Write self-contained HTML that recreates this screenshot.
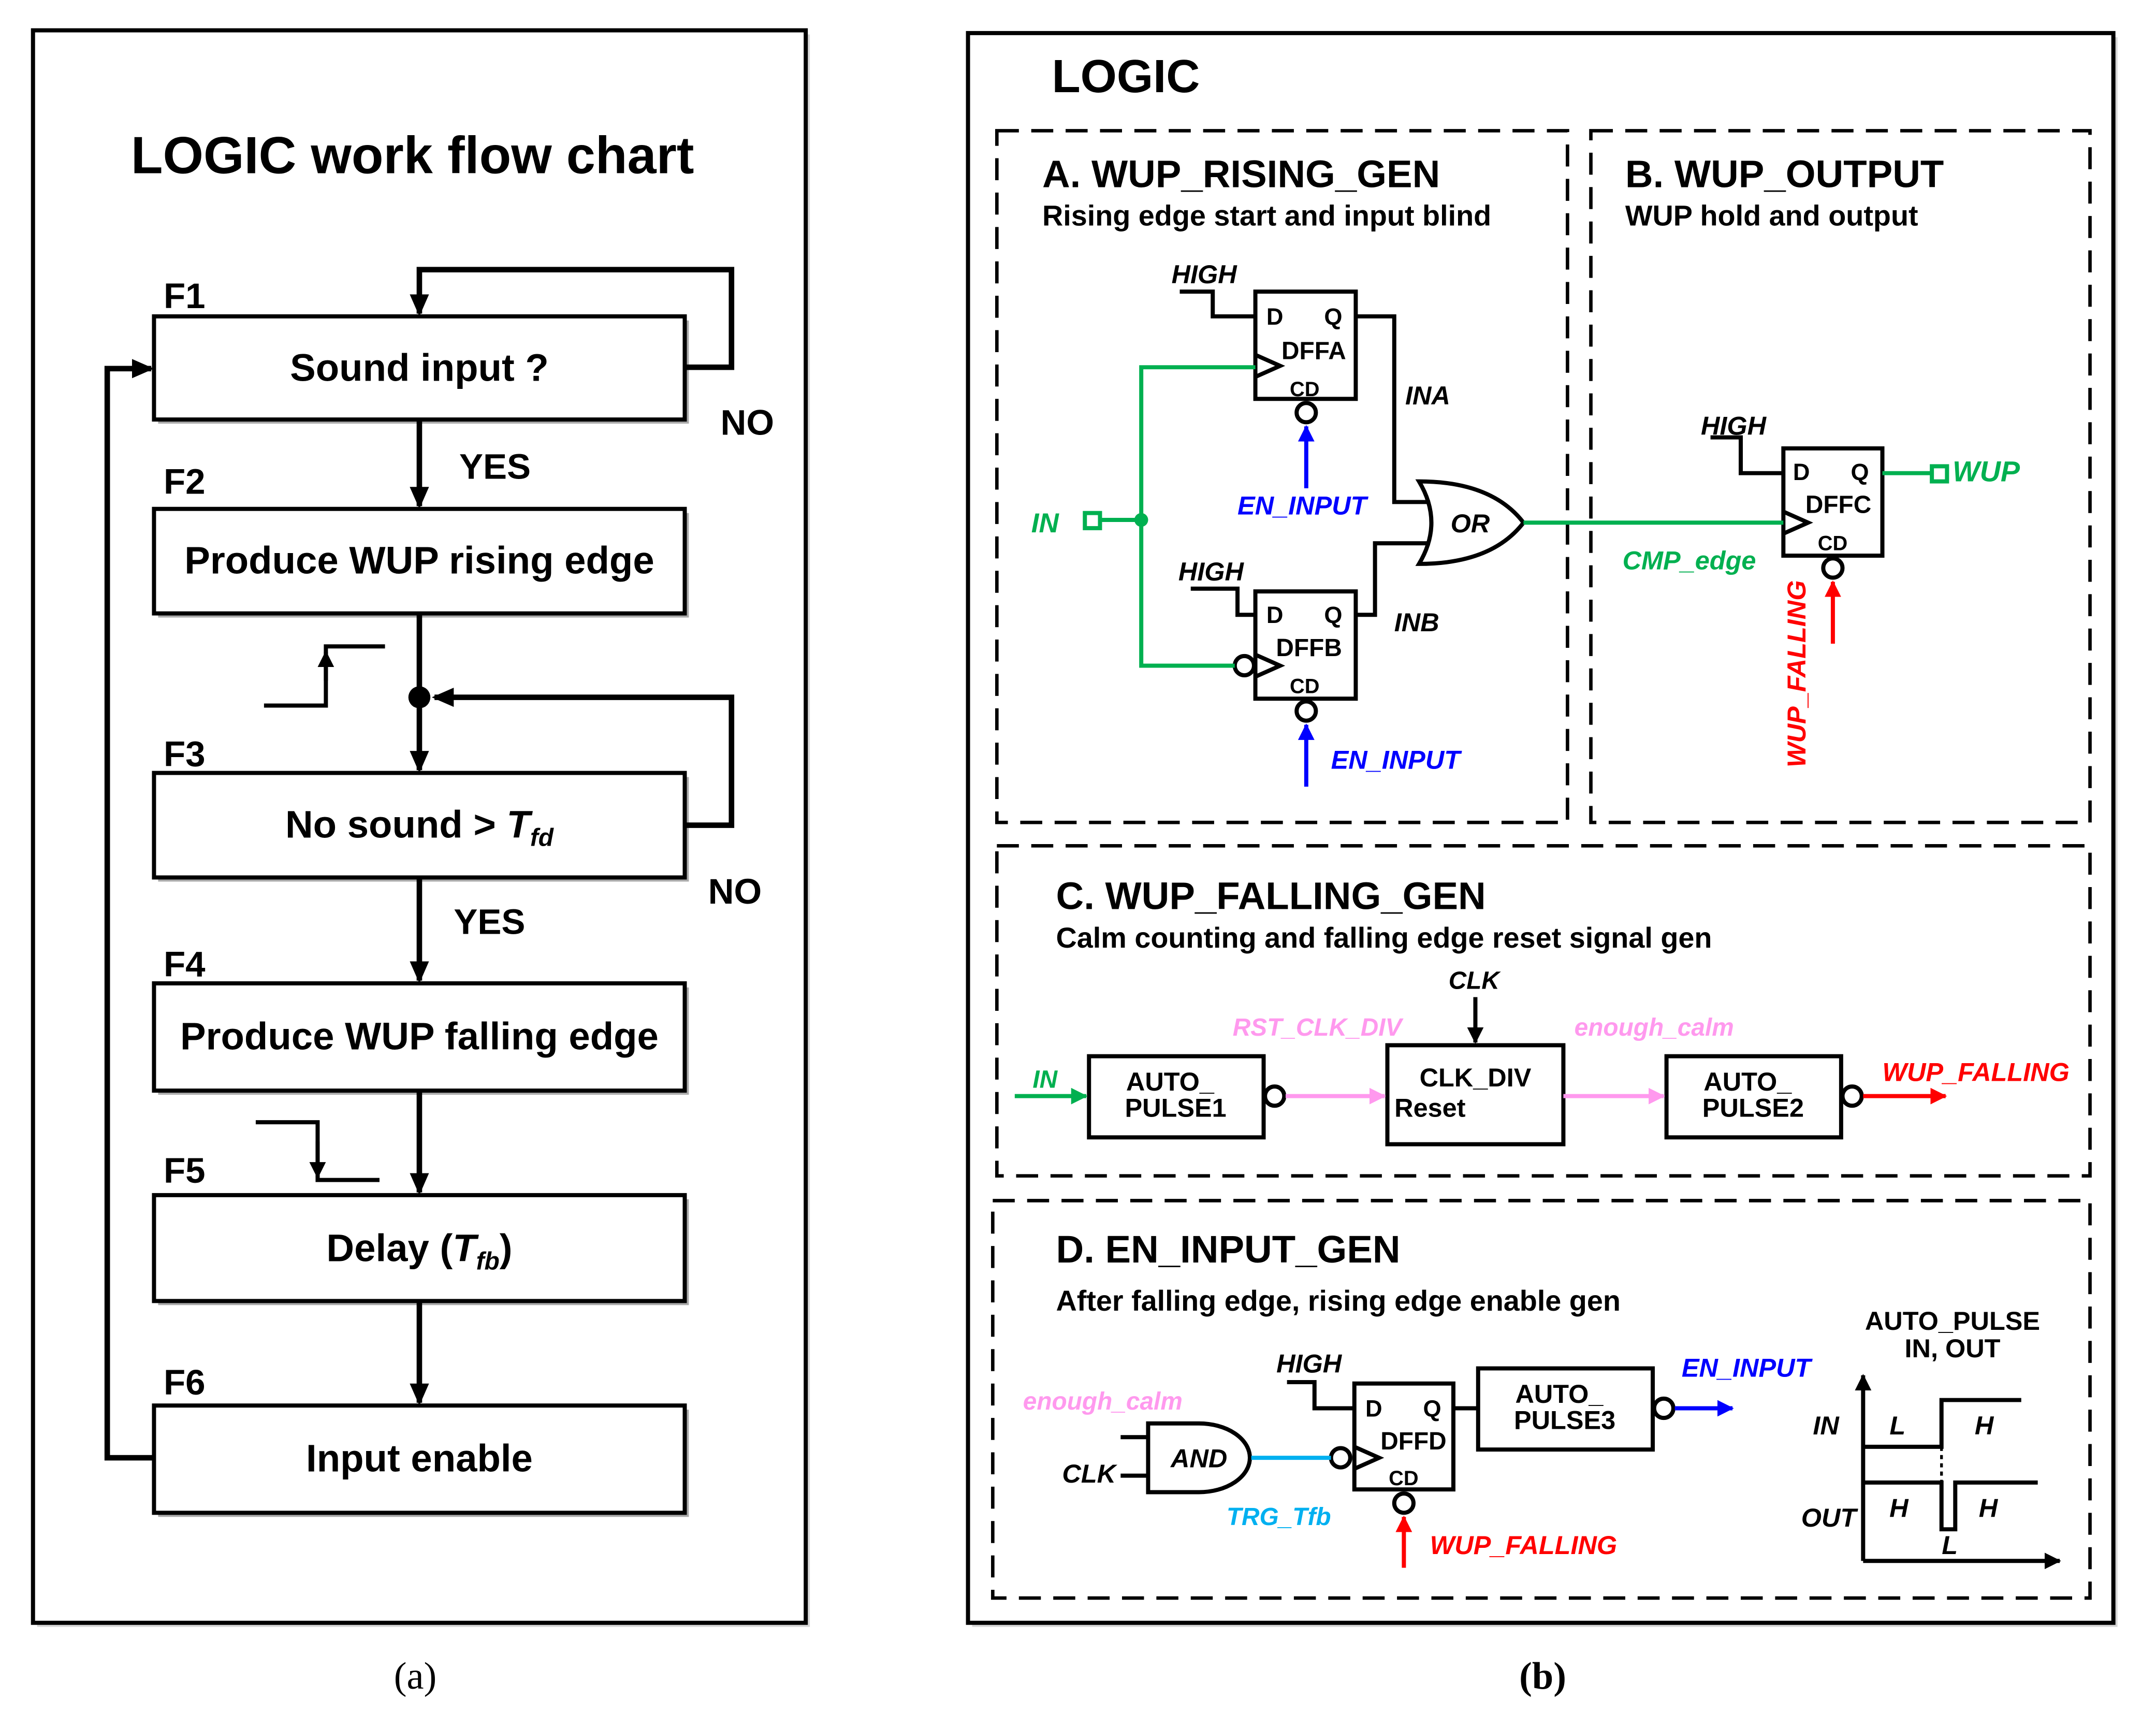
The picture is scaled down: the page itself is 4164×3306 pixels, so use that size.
<!DOCTYPE html>
<html><head><meta charset="utf-8"><style>html,body{margin:0;padding:0;background:#fff}svg{display:block}</style></head><body>
<svg width="4164" height="3306" viewBox="0 0 1568 1244.8" xmlns="http://www.w3.org/2000/svg" font-family="Liberation Sans, Arial, sans-serif">
<defs>
<marker id="ab" markerWidth="16" markerHeight="16" refX="14" refY="8" orient="auto" markerUnits="userSpaceOnUse"><path d="M0,1 L16,8 L0,15z" fill="#000"/></marker>
<marker id="am" markerWidth="12" markerHeight="12" refX="11" refY="6" orient="auto" markerUnits="userSpaceOnUse"><path d="M0,0 L12,6 L0,12z" fill="#000"/></marker>
<marker id="abl" markerWidth="12" markerHeight="12" refX="11" refY="6" orient="auto" markerUnits="userSpaceOnUse"><path d="M0,0 L12,6 L0,12z" fill="#0000ff"/></marker>
<marker id="ar" markerWidth="12" markerHeight="12" refX="11" refY="6" orient="auto" markerUnits="userSpaceOnUse"><path d="M0,0 L12,6 L0,12z" fill="#ff0000"/></marker>
<marker id="ag" markerWidth="12" markerHeight="12" refX="11" refY="6" orient="auto" markerUnits="userSpaceOnUse"><path d="M0,0 L12,6 L0,12z" fill="#00b050"/></marker>
<marker id="ap" markerWidth="12" markerHeight="12" refX="11" refY="6" orient="auto" markerUnits="userSpaceOnUse"><path d="M0,0 L12,6 L0,12z" fill="#ff99ee"/></marker>
</defs>
<!-- LEFT PANEL -->
<rect x="27" y="25" width="562" height="1158" fill="#999" opacity="0.4"/>
<rect x="24" y="22" width="562" height="1158" fill="#fff" stroke="#000" stroke-width="3"/>
<text x="300" y="126" font-size="38" font-weight="bold" text-anchor="middle">LOGIC work flow chart</text>
<g font-size="26" font-weight="bold">
<text x="119" y="224">F1</text><text x="119" y="359">F2</text><text x="119" y="557">F3</text><text x="119" y="710">F4</text><text x="119" y="860">F5</text><text x="119" y="1014">F6</text>
<text x="334" y="348">YES</text><text x="330" y="679">YES</text><text x="524" y="316">NO</text><text x="515" y="657">NO</text>
</g>
<g fill="#fff" stroke="#000" stroke-width="3">
<rect x="115" y="233" width="386" height="75" fill="#aaa" stroke="none"/><rect x="112" y="230" width="386" height="75"/>
<rect x="115" y="373" width="386" height="76" fill="#aaa" stroke="none"/><rect x="112" y="370" width="386" height="76"/>
<rect x="115" y="565" width="386" height="76" fill="#aaa" stroke="none"/><rect x="112" y="562" width="386" height="76"/>
<rect x="115" y="718" width="386" height="78" fill="#aaa" stroke="none"/><rect x="112" y="715" width="386" height="78"/>
<rect x="115" y="872" width="386" height="77" fill="#aaa" stroke="none"/><rect x="112" y="869" width="386" height="77"/>
<rect x="115" y="1025" width="386" height="78" fill="#aaa" stroke="none"/><rect x="112" y="1022" width="386" height="78"/>
</g>
<g font-size="28" font-weight="bold" text-anchor="middle">
<text x="305" y="277">Sound input ?</text>
<text x="305" y="417">Produce WUP rising edge</text>
<text x="305" y="609">No sound &gt; <tspan font-style="italic">T</tspan><tspan font-style="italic" font-size="18" dy="6">fd</tspan></text>
<text x="305" y="763">Produce WUP falling edge</text>
<text x="305" y="917">Delay (<tspan font-style="italic">T</tspan><tspan font-style="italic" font-size="18" dy="6">fb</tspan><tspan dy="-6">)</tspan></text>
<text x="305" y="1070">Input enable</text>
</g>
<g stroke="#000" stroke-width="4" fill="none">
<line x1="305" y1="305" x2="305" y2="368" marker-end="url(#ab)"/>
<line x1="305" y1="446" x2="305" y2="505"/>
<line x1="305" y1="507" x2="305" y2="560" marker-end="url(#ab)"/>
<line x1="305" y1="638" x2="305" y2="713" marker-end="url(#ab)"/>
<line x1="305" y1="793" x2="305" y2="867" marker-end="url(#ab)"/>
<line x1="305" y1="946" x2="305" y2="1020" marker-end="url(#ab)"/>
<polyline points="498,267 532,267 532,196 305,196 305,228" marker-end="url(#ab)"/>
<polyline points="498,600 532,600 532,507 316,507" marker-end="url(#ab)"/>
<polyline points="112,1060 78,1060 78,268 110,268" marker-end="url(#ab)"/>
</g>
<circle cx="305" cy="507" r="8" fill="#000"/>
<g stroke="#000" stroke-width="3" fill="none">
<polyline points="192,513 237,513 237,470 280,470"/>
<line x1="237" y1="495" x2="237" y2="474" marker-end="url(#am)"/>
<polyline points="186,816 231,816 231,858 276,858"/>
<line x1="231" y1="830" x2="231" y2="856" marker-end="url(#am)"/>
</g>
<text x="302" y="1228" font-size="28" font-family="Liberation Serif, serif" text-anchor="middle">(a)</text>
<text x="1122" y="1228" font-size="28" font-family="Liberation Serif, serif" text-anchor="middle" font-weight="bold">(b)</text>

<!-- RIGHT PANEL -->
<rect x="707" y="27" width="833" height="1156" fill="#999" opacity="0.4"/>
<rect x="704" y="24" width="833" height="1156" fill="#fff" stroke="#000" stroke-width="3"/>
<text x="765" y="67" font-size="34" font-weight="bold">LOGIC</text>
<g fill="none" stroke="#000" stroke-width="2.5" stroke-dasharray="16,9">
<rect x="725" y="95" width="415" height="503"/>
<rect x="1157" y="95" width="363" height="503"/>
<rect x="725" y="615" width="795" height="240"/>
<rect x="722" y="873" width="798" height="289"/>
</g>
<g font-weight="bold">
<text x="758" y="136" font-size="28">A. WUP_RISING_GEN</text>
<text x="758" y="164" font-size="21">Rising edge start and input blind</text>
<text x="1182" y="136" font-size="28">B. WUP_OUTPUT</text>
<text x="1182" y="164" font-size="21">WUP hold and output</text>
<text x="768" y="661" font-size="28">C. WUP_FALLING_GEN</text>
<text x="768" y="689" font-size="21">Calm counting and falling edge reset signal gen</text>
<text x="768" y="918" font-size="28">D. EN_INPUT_GEN</text>
<text x="768" y="953" font-size="21">After falling edge, rising edge enable gen</text>
</g>
<!-- A -->
<g stroke="#000" stroke-width="3" fill="none">
<rect x="913" y="212" width="73" height="78"/>
<rect x="913" y="430" width="73" height="78"/>
<polyline points="858,212 882,212 882,230 913,230"/>
<polyline points="866,428 900,428 900,447 913,447"/>
<polyline points="913,258 931,266 913,274"/>
<polyline points="913,476 931,484 913,492"/>
<circle cx="950" cy="300" r="7"/><circle cx="950" cy="517" r="7"/>
<circle cx="905" cy="484" r="7"/>
<polyline points="986,230 1014,230 1014,365 1040,365"/>
<polyline points="986,447 1000,447 1000,395 1040,395"/>
<path d="M1032,350 Q1050,380 1032,410 Q1085,410 1108,380 Q1085,350 1032,350Z"/>
<rect x="1297" y="326" width="72" height="78"/>
<polyline points="1244,318 1266,318 1266,344 1297,344"/>
<polyline points="1297,372 1315,380 1297,388"/>
<circle cx="1333" cy="413" r="7"/>
</g>
<g stroke="#00b050" stroke-width="3" fill="none">
<line x1="801" y1="378" x2="830" y2="378"/>
<polyline points="913,267 830,267 830,484 898,484"/>
<line x1="1108" y1="380" x2="1297" y2="380"/>
<line x1="1369" y1="344" x2="1405" y2="344"/>
<rect x="789" y="373" width="11" height="11" fill="#fff"/>
<rect x="1405" y="339" width="11" height="11" fill="#fff"/>
</g>
<circle cx="830" cy="378" r="5" fill="#00b050"/>
<line x1="950" y1="355" x2="950" y2="310" stroke="#0000ff" stroke-width="3" marker-end="url(#abl)"/>
<line x1="950" y1="572" x2="950" y2="527" stroke="#0000ff" stroke-width="3" marker-end="url(#abl)"/>
<line x1="1333" y1="468" x2="1333" y2="423" stroke="#ff0000" stroke-width="3" marker-end="url(#ar)"/>
<g font-size="17" font-weight="bold">
<text x="921" y="236">D</text><text x="963" y="236">Q</text><text x="932" y="261" font-size="18">DFFA</text><text x="938" y="288" font-size="15">CD</text>
<text x="921" y="453">D</text><text x="963" y="453">Q</text><text x="928" y="477" font-size="18">DFFB</text><text x="938" y="504" font-size="15">CD</text>
<text x="1304" y="349">D</text><text x="1346" y="349">Q</text><text x="1313" y="373" font-size="18">DFFC</text><text x="1322" y="400" font-size="15">CD</text>
</g>
<g font-size="19" font-weight="bold" font-style="italic">
<text x="852" y="206">HIGH</text><text x="857" y="422">HIGH</text><text x="1237" y="316">HIGH</text>
<text x="1022" y="294">INA</text><text x="1014" y="459">INB</text><text x="1055" y="387">OR</text>
<text x="900" y="374" fill="#0000ff">EN_INPUT</text><text x="968" y="559" fill="#0000ff">EN_INPUT</text>
<text x="750" y="387" fill="#00b050" font-size="20">IN</text>
<text x="1180" y="414" fill="#00b050">CMP_edge</text>
<text x="1420" y="350" fill="#00b050" font-size="21">WUP</text>
<text transform="translate(1313,558) rotate(-90)" fill="#ff0000">WUP_FALLING</text>
</g>
<!-- C -->
<g stroke="#000" stroke-width="3" fill="none">
<rect x="792" y="768" width="127" height="59"/>
<rect x="1009" y="760" width="128" height="72"/>
<rect x="1212" y="768" width="127" height="59"/>
<circle cx="927" cy="797" r="7"/><circle cx="1347" cy="797" r="7"/>
<line x1="1073" y1="725" x2="1073" y2="758" marker-end="url(#am)"/>
</g>
<line x1="738" y1="797" x2="790" y2="797" stroke="#00b050" stroke-width="3" marker-end="url(#ag)"/>
<line x1="935" y1="797" x2="1007" y2="797" stroke="#ff99ee" stroke-width="3" marker-end="url(#ap)"/>
<line x1="1137" y1="797" x2="1210" y2="797" stroke="#ff99ee" stroke-width="3" marker-end="url(#ap)"/>
<line x1="1355" y1="797" x2="1415" y2="797" stroke="#ff0000" stroke-width="3" marker-end="url(#ar)"/>
<g font-size="19" font-weight="bold" text-anchor="middle">
<text x="851" y="793">AUTO_</text><text x="855" y="812">PULSE1</text>
<text x="1271" y="793">AUTO_</text><text x="1275" y="812">PULSE2</text>
<text x="1073" y="790">CLK_DIV</text><text x="1040" y="812">Reset</text>
</g>
<g font-size="18" font-weight="bold" font-style="italic" text-anchor="middle">
<text x="1072" y="719" font-style="italic">CLK</text>
<text x="958" y="753" fill="#ff99ee">RST_CLK_DIV</text>
<text x="1203" y="753" fill="#ff99ee">enough_calm</text>
<text x="1437" y="786" fill="#ff0000" font-size="19">WUP_FALLING</text>
<text x="760" y="791" fill="#00b050">IN</text>
</g>
<!-- D -->
<g stroke="#000" stroke-width="3" fill="none">
<rect x="985" y="1006" width="72" height="77"/>
<rect x="1075" y="995" width="127" height="59"/>
<polyline points="936,1005 956,1005 956,1024 985,1024"/>
<polyline points="985,1052 1003,1060 985,1068"/>
<circle cx="975" cy="1060" r="7"/><circle cx="1021" cy="1093" r="7"/><circle cx="1210" cy="1024" r="7"/>
<path d="M835,1035 L872,1035 A37,25 0 0 1 872,1085 L835,1085Z"/>
<line x1="815" y1="1045" x2="835" y2="1045"/><line x1="815" y1="1073" x2="835" y2="1073"/>
<line x1="1057" y1="1024" x2="1075" y2="1024"/>
<line x1="1355" y1="1135" x2="1355" y2="1000" marker-end="url(#am)"/>
<line x1="1355" y1="1135" x2="1498" y2="1135" marker-end="url(#am)"/>
<polyline points="1355,1052 1412,1052 1412,1018 1470,1018"/>
<polyline points="1355,1078 1412,1078 1412,1112 1422,1112 1422,1078 1482,1078"/>
</g>
<line x1="1412" y1="1052" x2="1412" y2="1078" stroke="#000" stroke-width="2" stroke-dasharray="3,3"/>
<line x1="910" y1="1060" x2="968" y2="1060" stroke="#00b0f0" stroke-width="3"/>
<line x1="1218" y1="1024" x2="1260" y2="1024" stroke="#0000ff" stroke-width="3" marker-end="url(#abl)"/>
<line x1="1021" y1="1140" x2="1021" y2="1103" stroke="#ff0000" stroke-width="3" marker-end="url(#ar)"/>
<g font-size="17" font-weight="bold">
<text x="993" y="1030">D</text><text x="1035" y="1030">Q</text><text x="1004" y="1054" font-size="18">DFFD</text><text x="1010" y="1080" font-size="15">CD</text>
</g>
<g font-size="19" font-weight="bold" text-anchor="middle">
<text x="1134" y="1020">AUTO_</text><text x="1138" y="1039">PULSE3</text>
<text x="1420" y="967">AUTO_PULSE</text><text x="1420" y="987">IN, OUT</text>
</g>
<g font-size="19" font-weight="bold" font-style="italic" text-anchor="middle">
<text x="952" y="998">HIGH</text><text x="872" y="1067">AND</text>
<text x="802" y="1025" fill="#ff99ee" font-size="18">enough_calm</text>
<text x="792" y="1078">CLK</text>
<text x="930" y="1109" fill="#00b0f0" font-size="18">TRG_Tfb</text>
<text x="1108" y="1130" fill="#ff0000">WUP_FALLING</text>
<text x="1270" y="1001" fill="#0000ff">EN_INPUT</text>
<text x="1328" y="1043">IN</text><text x="1380" y="1043">L</text><text x="1443" y="1043">H</text>
<text x="1330" y="1110">OUT</text><text x="1381" y="1103">H</text><text x="1446" y="1103">H</text><text x="1418" y="1130">L</text>
</g>
</svg>
</body></html>
